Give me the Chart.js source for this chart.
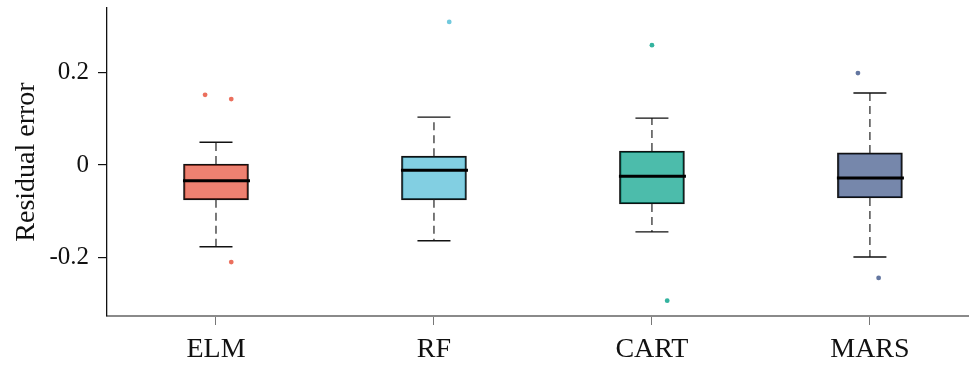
<!DOCTYPE html>
<html>
<head>
<meta charset="utf-8">
<script src="https://cdn.jsdelivr.net/npm/chart.js@4.4.1/dist/chart.umd.min.js"></script>
<style>
	html, body { margin: 0; padding: 0; background: #fff; }
	#chart { display: block; }
</style>
</head>
<body>
<canvas id="chart" width="972" height="367"></canvas>
<script>
	'use strict';

	// Data
	var models = ['ELM', 'RF', 'CART', 'MARS'];
	var q1 = [-0.075, -0.075, -0.084, -0.071];
	var median = [-0.034, -0.011, -0.024, -0.028];
	var q3 = [0.002, 0.019, 0.030, 0.026];
	var whiskerLow = [-0.176, -0.163, -0.144, -0.198];
	var whiskerHigh = [0.049, 0.103, 0.101, 0.155];
	var outliers = [[0.151, 0.142, -0.209], [0.308], [0.258, -0.292], [0.198, -0.243]];
	var outlierJitter = [[-0.05, 0.07, 0.07], [0.07], [0, 0.07], [-0.055, 0.04]];
	var yTicks = [-0.2, 0, 0.2];

	var fills = ['rgba(230,75,53,0.7)', 'rgba(77,187,213,0.7)', 'rgba(0,160,135,0.7)', 'rgba(60,84,136,0.7)'];
	var dots = ['rgba(230,75,53,0.8)', 'rgba(77,187,213,0.8)', 'rgba(0,160,135,0.8)', 'rgba(60,84,136,0.8)'];
	var serif = '"Liberation Serif", "Times New Roman", serif';

	var boxes = models.map(function (m, i) {
		return { x: i + 1, y: [q1[i], q3[i]] };
	});

	var datasets = [{
		type: 'bar',
		data: boxes,
		backgroundColor: fills,
		borderColor: '#111',
		borderWidth: 1.6,
		borderSkipped: false,
		barThickness: 65,
		order: 2
	}];

	models.forEach(function (m, i) {
		datasets.push({
			type: 'scatter',
			data: outliers[i].map(function (v, k) {
				return { x: i + 1 + outlierJitter[i][k], y: v };
			}),
			backgroundColor: dots[i],
			borderWidth: 0,
			pointRadius: 2.4,
			order: 1
		});
	});

	// whiskers, caps and medians, placed through the chart scales
	var boxParts = {
		id: 'boxParts',
		afterDatasetsDraw: function (chart) {
			var ctx = chart.ctx,
				xs = chart.scales.x,
				ys = chart.scales.y;
			ctx.save();
			models.forEach(function (m, i) {
				var cx = xs.getPixelForValue(i + 1);

				ctx.strokeStyle = '#333';
				ctx.lineWidth = 1.3;
				ctx.setLineDash([8, 5]);
				ctx.beginPath();
				ctx.moveTo(cx, ys.getPixelForValue(q3[i]));
				ctx.lineTo(cx, ys.getPixelForValue(whiskerHigh[i]));
				ctx.moveTo(cx, ys.getPixelForValue(q1[i]));
				ctx.lineTo(cx, ys.getPixelForValue(whiskerLow[i]));
				ctx.stroke();

				ctx.setLineDash([]);
				ctx.strokeStyle = '#111';
				ctx.lineWidth = 1.4;
				ctx.beginPath();
				[whiskerHigh[i], whiskerLow[i]].forEach(function (v) {
					var py = ys.getPixelForValue(v);
					ctx.moveTo(cx - 16.5, py);
					ctx.lineTo(cx + 16.5, py);
				});
				ctx.stroke();

				ctx.strokeStyle = '#000';
				ctx.lineWidth = 3;
				ctx.beginPath();
				ctx.moveTo(cx - 33, ys.getPixelForValue(median[i]));
				ctx.lineTo(cx + 34, ys.getPixelForValue(median[i]));
				ctx.stroke();
			});
			ctx.restore();
		}
	};

	new Chart(document.getElementById('chart'), {
		data: { datasets: datasets },
		plugins: [boxParts],
		options: {
			responsive: false,
			devicePixelRatio: 1,
			animation: false,
			layout: { padding: { top: 8, right: 0, left: 0, bottom: 0 } },
			plugins: {
				legend: { display: false },
				tooltip: { enabled: false }
			},
			scales: {
				x: {
					type: 'linear',
					min: 0.5,
					max: 4.45,
					offset: false,
					afterBuildTicks: function (scale) {
						scale.ticks = models.map(function (m, i) { return { value: i + 1 }; });
					},
					afterFit: function (scale) { scale.height = 51; },
					grid: { display: true, offset: false, drawOnChartArea: false, drawTicks: true, tickLength: 9, color: '#777', lineWidth: 1 },
					border: { display: true, color: '#8a8a8a', width: 2 },
					ticks: {
						color: '#111',
						padding: 8,
						font: { family: serif, size: 28 },
						callback: function (v) { return models[v - 1]; }
					}
				},
				y: {
					min: -0.325,
					max: 0.338,
					afterBuildTicks: function (scale) {
						scale.ticks = yTicks.map(function (v) { return { value: v }; });
					},
					afterFit: function (scale) {
						scale.width = 107;
						scale.paddingTop = 0;
						scale.paddingBottom = 0;
					},
					grid: { display: true, drawOnChartArea: false, drawTicks: true, tickLength: 9, color: '#111', lineWidth: 1.2 },
					border: { display: true, color: '#111', width: 1.3 },
					ticks: {
						color: '#111',
						padding: 9,
						font: { family: serif, size: 25 },
						callback: function (v) { return v === 0 ? '0' : v.toFixed(1); }
					},
					title: {
						display: true,
						text: 'Residual error',
						color: '#111',
						padding: { top: 10, bottom: 0 },
						font: { family: serif, size: 28 }
					}
				}
			}
		}
	});
</script>
</body>
</html>
